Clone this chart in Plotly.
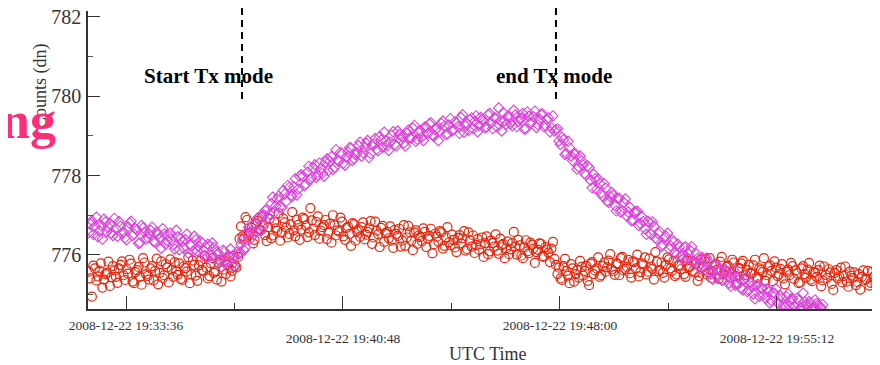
import pandas as pd
import plotly.graph_objects as go

# ---- data ----
# two interleaved sample sets, each every 6 s, offset by 3 s
start_a = "2008-12-22 19:32:22"
start_b = "2008-12-22 19:32:25"
sample_step = "6s"

red_counts_a = [
775.58, 774.95, 775.66, 775.46, 775.79, 775.38, 775.55, 775.22, 775.72, 775.45,
775.66, 775.84, 775.37, 775.53, 775.78, 775.29, 775.62, 775.45, 775.92, 775.51,
775.38, 775.72, 775.60, 775.26, 775.84, 775.49, 775.69, 775.89, 775.45, 775.58,
775.79, 775.37, 775.67, 775.94, 775.51, 775.75, 775.35, 775.85, 775.59, 775.68,
775.47, 775.92, 775.59, 775.80, 775.33, 775.86, 775.75, 775.46, 775.98, 775.69,
776.41, 776.47, 776.95, 776.53, 776.68, 776.38, 776.85, 776.62, 776.75, 776.35,
776.91, 776.49, 776.67, 777.05, 776.56, 776.82, 776.44, 776.77, 776.62, 776.89,
776.38, 776.94, 776.74, 776.57, 776.87, 776.50, 776.97, 776.61, 776.75, 776.40,
776.79, 777.00, 776.49, 776.59, 776.84, 776.38, 776.71, 776.23, 776.77, 776.60,
776.46, 776.82, 776.51, 776.67, 776.28, 776.84, 776.52, 776.68, 776.33, 776.58,
776.72, 776.18, 776.53, 776.66, 776.36, 776.23, 776.73, 776.36, 776.56, 776.28,
776.45, 776.67, 776.20, 776.48, 776.04, 776.54, 776.33, 776.57, 776.23, 776.70,
776.24, 776.38, 776.07, 776.50, 776.42, 776.11, 776.57, 776.21, 776.05, 776.40,
776.27, 775.95, 776.47, 776.09, 776.30, 776.52, 776.03, 776.25, 775.92, 776.34,
776.14, 776.58, 776.01, 776.24, 775.92, 776.37, 776.04, 776.26, 775.80, 776.13,
776.28, 775.95, 776.14, 775.82, 776.33, 775.75, 775.68, 775.37, 775.90, 775.48,
775.77, 775.33, 775.62, 775.85, 775.48, 775.73, 775.24, 775.82, 775.61, 775.94,
775.49, 775.81, 775.69, 776.02, 775.59, 775.79, 775.49, 775.95, 775.65, 775.88,
775.43, 775.82, 776.01, 775.57, 775.76, 775.51, 775.91, 775.65, 776.07, 775.59,
775.81, 775.43, 775.94, 775.66, 775.85, 775.51, 775.75, 775.98, 775.45, 775.69,
775.85, 775.56, 775.35, 775.89, 775.73, 775.51, 775.92, 775.59, 775.77, 775.40,
775.95, 775.61, 775.73, 775.43, 775.81, 775.27, 775.66, 775.85, 775.49, 775.75,
775.53, 775.88, 775.41, 775.62, 775.92, 775.49, 775.74, 775.34, 775.68, 775.52,
775.77, 775.26, 775.63, 775.80, 775.40, 775.54, 775.31, 775.72, 775.43, 775.80,
775.34, 775.56, 775.62, 775.21, 775.71, 775.42, 775.56, 775.12, 775.62, 775.46,
775.31, 775.71, 775.20, 775.48, 775.56, 775.32, 775.13, 775.61, 775.39, 775.23,
775.58, 775.27, 775.42]

red_counts_b = [
775.41, 775.73, 775.36, 775.60, 775.18, 775.52, 775.83, 775.44, 775.61, 775.30,
775.75, 775.49, 775.64, 775.88, 775.33, 775.57, 775.70, 775.25, 775.81, 775.47,
775.66, 775.36, 775.91, 775.55, 775.42, 775.77, 775.31, 775.63, 775.82, 775.50,
775.40, 775.71, 775.58, 775.29, 775.86, 775.48, 775.74, 775.62, 775.97, 775.41,
775.79, 775.55, 775.38, 775.88, 775.63, 775.52, 775.95, 775.60, 775.72, 775.95,
776.72, 776.41, 776.88, 776.57, 776.29, 776.79, 776.64, 776.97, 776.50, 776.70,
776.42, 776.83, 776.61, 776.36, 776.92, 776.69, 776.53, 777.08, 776.47, 776.76,
776.64, 776.90, 776.45, 777.18, 776.66, 776.83, 776.41, 776.70, 776.88, 776.56,
776.31, 776.75, 776.62, 776.94, 776.47, 776.68, 776.53, 776.80, 776.36, 776.64,
776.70, 776.39, 776.58, 776.85, 776.44, 776.61, 776.20, 776.73, 776.55, 776.42,
776.36, 776.63, 776.48, 776.21, 776.75, 776.44, 776.57, 776.12, 776.62, 776.49,
776.35, 776.58, 776.41, 776.66, 776.27, 776.46, 776.60, 776.16, 776.44, 776.32,
776.51, 776.19, 776.43, 776.29, 776.60, 776.15, 776.37, 776.49, 776.25, 776.13,
776.44, 776.30, 776.02, 776.36, 776.21, 776.11, 776.41, 776.28, 776.17, 776.02,
776.30, 776.21, 776.38, 775.98, 776.19, 776.09, 776.31, 776.16, 776.07, 776.29,
775.97, 776.20, 776.06, 776.16, 775.90, 775.52, 775.41, 775.72, 775.60, 775.29,
775.66, 775.52, 775.43, 775.70, 775.60, 775.35, 775.78, 775.52, 775.66, 775.45,
775.72, 775.58, 775.86, 775.64, 775.50, 775.77, 775.92, 775.61, 775.70, 775.54,
775.84, 775.66, 775.46, 775.79, 775.94, 775.58, 775.71, 775.38, 775.83, 775.62,
775.55, 775.75, 775.89, 775.60, 775.47, 775.73, 775.64, 775.52, 775.86, 775.71,
775.60, 775.79, 775.47, 775.68, 775.90, 775.56, 775.42, 775.74, 775.63, 775.83,
775.52, 775.70, 775.58, 775.88, 775.46, 775.67, 775.79, 775.39, 775.62, 775.55,
775.74, 775.44, 775.66, 775.57, 775.35, 775.71, 775.60, 775.84, 775.47, 775.65,
775.41, 775.58, 775.49, 775.72, 775.61, 775.29, 775.66, 775.52, 775.63, 775.38,
775.57, 775.45, 775.73, 775.36, 775.50, 775.64, 775.27, 775.55, 775.41, 775.68,
775.47, 775.33, 775.58, 775.42, 775.24, 775.52, 775.45, 775.37, 775.60, 775.30,
775.46, 775.38, 775.51]

magenta_counts_a = [
776.56, 776.86, 776.72, 776.46, 776.75, 776.90, 776.59, 776.79, 776.49, 776.66,
776.84, 776.54, 776.43, 776.71, 776.85, 776.53, 776.63, 776.31, 776.68, 776.40,
776.53, 776.70, 776.32, 776.52, 776.17, 776.53, 776.36, 776.55, 776.26, 776.62,
776.13, 776.34, 776.39, 776.05, 776.24, 776.47, 776.10, 776.34, 776.11, 775.93,
776.23, 776.30, 775.92, 776.04, 775.70, 776.09, 775.89, 776.15, 775.70, 776.07,
776.04, 776.38, 776.19, 776.70, 776.59, 776.53, 776.93, 776.61, 777.01, 777.14,
777.03, 777.45, 777.23, 777.48, 777.19, 777.53, 777.75, 777.49, 777.72, 777.51,
777.98, 777.98, 777.78, 778.23, 777.96, 778.27, 778.01, 778.17, 777.98, 778.42,
778.36, 778.15, 778.65, 778.36, 778.55, 778.26, 778.59, 778.69, 778.43, 778.57,
778.84, 778.57, 778.81, 778.45, 778.77, 778.93, 778.62, 778.89, 779.09, 778.75,
778.84, 779.10, 778.74, 779.03, 778.98, 778.74, 779.14, 778.94, 779.26, 778.91,
779.13, 778.88, 779.21, 779.30, 779.02, 779.15, 778.88, 779.31, 779.24, 779.05,
779.43, 779.16, 779.32, 779.06, 779.53, 779.25, 779.14, 779.45, 779.36, 779.10,
779.46, 779.36, 779.22, 779.56, 779.18, 779.44, 779.70, 779.12, 779.38, 779.49,
779.31, 779.64, 779.23, 779.43, 779.56, 779.18, 779.49, 779.35, 779.62, 779.28,
779.54, 779.23, 779.41, 779.10, 779.50, 779.15, 778.87, 778.96, 778.53, 778.86,
778.49, 778.54, 778.16, 778.49, 778.26, 778.01, 778.20, 777.69, 777.92, 777.91,
777.56, 777.79, 777.36, 777.47, 777.50, 777.11, 777.43, 777.11, 777.41, 777.08,
776.86, 777.08, 777.10, 776.79, 776.84, 776.52, 776.82, 776.83, 776.43, 776.53,
776.22, 776.44, 776.55, 776.23, 776.33, 776.01, 776.19, 775.89, 776.21, 776.02,
776.21, 775.82, 775.92, 775.65, 775.89, 775.92, 775.62, 775.39, 775.74, 775.62,
775.37, 775.65, 775.45, 775.21, 775.62, 775.28, 775.39, 775.12, 775.43, 775.11,
775.21, 774.90, 775.26, 775.17, 775.00, 775.15, 774.79, 775.04, 775.15, 774.78,
774.91, 774.69, 775.02, 774.89, 774.71, 774.91, 774.66, 775.04, 774.73, 774.83,
774.67, 774.87, 774.74, 774.68]

magenta_counts_b = [
776.78, 776.52, 776.95, 776.61, 776.40, 776.83, 776.70, 776.55, 776.92, 776.47,
776.72, 776.58, 776.38, 776.80, 776.49, 776.66, 776.29, 776.74, 776.57, 776.45,
776.62, 776.34, 776.58, 776.43, 776.66, 776.27, 776.48, 776.39, 776.15, 776.46,
776.41, 776.18, 776.52, 776.26, 776.09, 776.38, 776.22, 776.31, 775.99, 776.27,
775.98, 776.19, 776.08, 775.84, 776.12, 775.80, 775.97, 775.76, 775.93, 776.02,
776.27, 776.12, 776.55, 776.40, 776.76, 776.58, 776.95, 776.74, 777.12, 776.94,
777.29, 777.06, 777.41, 777.21, 777.62, 777.35, 777.70, 777.48, 777.92, 777.66,
778.02, 777.74, 778.08, 777.90, 778.19, 777.95, 778.31, 778.06, 778.34, 778.12,
778.47, 778.20, 778.39, 778.58, 778.31, 778.46, 778.70, 778.38, 778.52, 778.75,
778.49, 778.72, 778.88, 778.55, 778.80, 778.66, 778.98, 778.71, 778.86, 778.63,
779.01, 778.78, 779.12, 778.90, 778.81, 779.06, 778.95, 779.19, 778.86, 779.08,
778.97, 779.22, 779.06, 779.33, 778.99, 779.20, 779.11, 779.37, 779.03, 779.27,
779.12, 779.35, 779.23, 779.46, 779.09, 779.31, 779.40, 779.18, 779.50, 779.26,
779.41, 779.20, 779.53, 779.33, 779.45, 779.22, 779.38, 779.58, 779.29, 779.47,
779.25, 779.52, 779.36, 779.44, 779.17, 779.60, 779.33, 779.48, 779.21, 779.42,
779.55, 779.26, 779.45, 779.20, 779.12, 779.18, 778.78, 778.90, 778.55, 778.70,
778.38, 778.55, 778.22, 778.37, 778.05, 778.24, 777.88, 778.03, 777.65, 777.80,
777.48, 777.68, 777.32, 777.57, 777.25, 777.42, 777.08, 777.32, 776.98, 777.20,
776.88, 777.08, 776.74, 776.96, 776.66, 776.85, 776.52, 776.72, 776.40, 776.58,
776.25, 776.47, 776.16, 776.38, 776.06, 776.27, 775.98, 776.19, 775.91, 776.12,
775.83, 776.03, 775.72, 775.94, 775.64, 775.81, 775.52, 775.75, 775.44, 775.63,
775.36, 775.58, 775.29, 775.49, 775.24, 775.43, 775.17, 775.36, 775.08, 775.30,
775.02, 775.24, 774.96, 775.16, 774.91, 775.08, 774.85, 775.04, 774.80, 774.97,
774.76, 774.95, 774.72, 774.90, 774.70, 774.86, 774.68, 774.82, 774.69, 774.80,
774.67, 774.78, 774.68, 774.75]

x_upper_tick_vals = ["2008-12-22 19:33:36", "2008-12-22 19:48:00"]
x_upper_tick_text = ["2008-12-22 19:33:36", "2008-12-22 19:48:00"]
x_lower_tick_vals = ["2008-12-22 19:40:48", "2008-12-22 19:55:12"]
x_lower_tick_text = ["2008-12-22 19:40:48", "2008-12-22 19:55:12"]
x_minor_vals = ["2008-12-22 19:37:12", "2008-12-22 19:44:24",
                "2008-12-22 19:51:36"]
y_tick_vals = [776, 778, 780, 782]
y_minor_vals = [775, 777, 779, 781]
tx_start = "2008-12-22 19:37:27"
tx_end = "2008-12-22 19:47:52"

# ---- figure ----
t_red_a = pd.date_range(start=start_a, periods=len(red_counts_a), freq=sample_step)
t_red_b = pd.date_range(start=start_b, periods=len(red_counts_b), freq=sample_step)
t_mag_a = pd.date_range(start=start_a, periods=len(magenta_counts_a), freq=sample_step)
t_mag_b = pd.date_range(start=start_b, periods=len(magenta_counts_b), freq=sample_step)
FONT = "Liberation Serif"
RED = "rgb(232,36,10)"
MAG = "rgb(222,64,222)"
X_RANGE = ["2008-12-22 19:32:20.35", "2008-12-22 19:58:53.05"]
Y_RANGE = [774.64, 782.14]

fig = go.Figure()
fig.add_trace(go.Scatter(
    x=list(t_red_a) + list(t_red_b), y=red_counts_a + red_counts_b,
    mode="markers",
    marker=dict(symbol="circle-open", size=9, color=RED,
                line=dict(width=1.2, color=RED)),
    showlegend=False, hoverinfo="x+y"))
fig.add_trace(go.Scatter(
    x=list(t_mag_a) + list(t_mag_b), y=magenta_counts_a + magenta_counts_b,
    mode="markers",
    marker=dict(symbol="diamond-open", size=8, color=MAG,
                line=dict(width=1.1, color=MAG)),
    showlegend=False, hoverinfo="x+y"))
# invisible point on the overlay axes (lower tick labels, right-hand ticks)
fig.add_trace(go.Scatter(x=[t_red_a[0]], y=[776], xaxis="x2", yaxis="y2",
                         mode="markers", marker=dict(opacity=0),
                         showlegend=False, hoverinfo="skip"))

for t in (tx_start, tx_end):
    fig.add_shape(type="line", xref="x", yref="paper", x0=t, x1=t,
                  y0=0.705, y1=1.04,
                  line=dict(color="black", width=2, dash="7px,5px"))

def note(text, x, y, size, color="#333", angle=0, xanchor="center"):
    fig.add_annotation(text=text, xref="paper", yref="paper", x=x, y=y,
                       xanchor=xanchor, yanchor="middle", showarrow=False,
                       textangle=angle,
                       font=dict(family=FONT, size=size, color=color))

note("<b>Start Tx mode</b>", 0.151, 0.782, 21, "black")
note("<b>end Tx mode</b>", 0.583, 0.782, 21, "black")
note("UTC Time", 0.5, -0.151, 18)
note("Counts (dn)", -0.06, 0.748, 18, angle=-90)
note("<b>ng</b>", -0.111, 0.634, 52, "#ff2d78", xanchor="left")

common_x = dict(type="date", automargin=False, range=X_RANGE,
                showgrid=False, zeroline=False, tickmode="array",
                tickfont=dict(family=FONT, size=13.5, color="#333"))

fig.update_layout(
    width=880, height=365,
    margin=dict(l=80, r=0, t=3, b=64, autoexpand=False),
    paper_bgcolor="white", plot_bgcolor="white",
    font=dict(family=FONT, color="#333"),
    xaxis=dict(
        **common_x,
        tickvals=x_upper_tick_vals + x_lower_tick_vals,
        ticktext=x_upper_tick_text + ["", ""],
        ticks="inside", ticklen=13, tickwidth=1, tickcolor="#333",
        ticklabelstandoff=3,
        minor=dict(tickmode="array", tickvals=x_minor_vals, ticks="inside",
                   ticklen=6, tickwidth=1, tickcolor="#333", showgrid=False),
        showline=True, linecolor="#333", linewidth=1.5,
    ),
    xaxis2=dict(
        **common_x,
        overlaying="x", side="bottom", anchor="y",
        tickvals=x_lower_tick_vals, ticktext=x_lower_tick_text,
        ticks="", ticklabelstandoff=19, showline=False,
    ),
    yaxis=dict(
        automargin=False, range=Y_RANGE,
        tickmode="array", tickvals=y_tick_vals,
        ticks="inside", ticklen=12, tickwidth=1, tickcolor="#333",
        ticklabeloverflow="allow", ticklabelstandoff=1,
        minor=dict(tickmode="array", tickvals=y_minor_vals, ticks="inside",
                   ticklen=5, tickwidth=1, tickcolor="#555", showgrid=False),
        showline=True, linecolor="#333", linewidth=1.5,
        showgrid=False, zeroline=False,
        tickfont=dict(family=FONT, size=20, color="#333"),
    ),
    yaxis2=dict(
        automargin=False, overlaying="y", side="right", anchor="x",
        range=Y_RANGE, tickmode="array", tickvals=y_tick_vals,
        showticklabels=False, ticks="inside", ticklen=15, tickwidth=1,
        tickcolor="#333", showline=False, showgrid=False, zeroline=False,
    ),
)

fig.write_html("out.html")
